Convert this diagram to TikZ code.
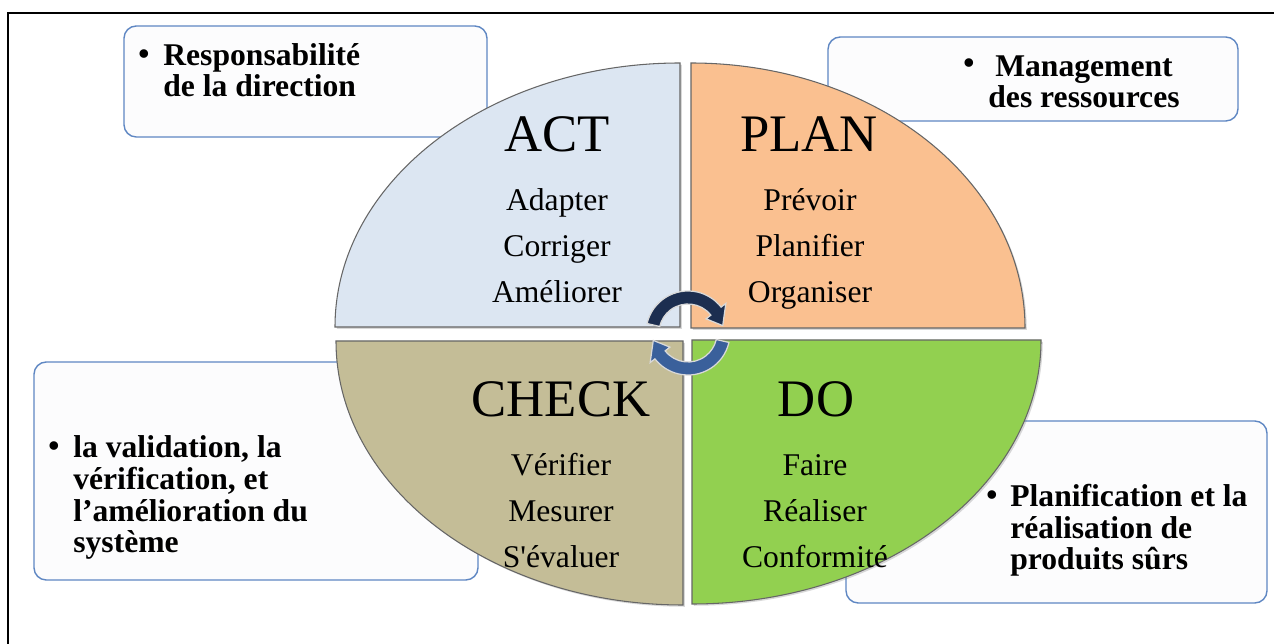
\documentclass[tikz,border=0pt]{standalone}
\usepackage{fontspec}
\setmainfont{Liberation Serif}
\usetikzlibrary{shadows}

\definecolor{actfill}{RGB}{220,230,242}
\definecolor{planfill}{RGB}{250,192,144}
\definecolor{checkfill}{RGB}{196,189,151}
\definecolor{dofill}{RGB}{146,208,80}
\definecolor{boxline}{RGB}{95,135,195}
\definecolor{boxfill}{RGB}{252,252,253}
\definecolor{navy}{RGB}{28,46,80}
\definecolor{midblue}{RGB}{58,96,155}

\newcommand\boxfont{\fontsize{18}{18.2}\selectfont\bfseries}
\newcommand\stepfont{\fontsize{18}{26.4}\selectfont}

\tikzset{
  infobox/.style={draw=boxline, line width=0.8pt, rounded corners=7pt, fill=boxfill},
  quarter/.style={draw=black!60, line width=0.6pt,
    drop shadow={opacity=0.3, shadow xshift=1pt, shadow yshift=-1pt}},
  title/.style={font=\fontsize{30}{30}\selectfont, inner sep=0pt, anchor=base},
  steps/.style={font=\stepfont, align=center, inner sep=0pt, anchor=base},
  boxtext/.style={font=\boxfont, align=left, inner sep=0pt, anchor=base west},
  bullet/.style={font=\boxfont, inner sep=0pt, anchor=base},
  cycle/.style={draw=black!15, line width=0.7pt}
}

\begin{document}
\begin{tikzpicture}[x=0.02cm, y=-0.02cm]
  \path[use as bounding box, fill=white] (0,0) rectangle (1274,644);
  \draw[line width=0.9pt] (8,644) -- (8,13) -- (1274,13);

  % boxes behind the cycle (text anchored on its last line)
  \draw[infobox] (124,26) rectangle (487,137);
  \draw[infobox] (828,37) rectangle (1238,121);
  \draw[infobox] (34,362) rectangle (478,580);
  \draw[infobox] (846,421) rectangle (1267,603);

  \node[bullet] (b1) at (144,65) {•};
  \node[boxtext] (resp) at (163,97) {Responsabilité\\de la direction};
  \node[bullet] (b2) at (969,74) {•};
  \node[boxtext, align=center, anchor=base] (mgmt) at (1084,108) {Management\\des ressources};
  \node[bullet] (b3) at (54,457) {•};
  \node[boxtext] (valid) at (73,553) {la validation, la\\vérification, et\\l’amélioration du\\système};
  \node[bullet] (b4) at (992,506) {•};
  \node[boxtext] (prod) at (1010,570) {Planification et la\\réalisation de\\produits sûrs};

  % the four quarters
  \draw[quarter, fill=actfill] (680,327) -- ++(-345,0)
    arc[start angle=180, end angle=270, x radius=345, y radius=264] -- cycle;
  \draw[quarter, fill=planfill] (691,328) -- ++(334,0)
    arc[start angle=0, end angle=-90, x radius=334, y radius=265] -- cycle;
  \draw[quarter, fill=checkfill] (683,341) -- ++(-347,0)
    arc[start angle=180, end angle=90, x radius=347, y radius=264] -- cycle;
  \draw[quarter, fill=dofill] (692,340) -- ++(349,0)
    arc[start angle=0, end angle=90, x radius=349, y radius=264] -- cycle;

  \node[title] (act) at (557,152) {ACT};
  \node[steps] (actsteps) at (557,303) {Adapter\\Corriger\\Améliorer};
  \node[title] (plan) at (809,152) {PLAN};
  \node[steps] (plansteps) at (810,303) {Prévoir\\Planifier\\Organiser};
  \node[title] (check) at (561,417) {CHECK};
  \node[steps] (checksteps) at (561,568) {Vérifier\\Mesurer\\S\textquotesingle évaluer};
  \node[title] (do) at (816,417) {DO};
  \node[steps] (dosteps) at (815,568) {Faire\\Réaliser\\Conformité};

  % turning arrows in the middle
  \begin{scope}[shift={(688,333)}]
    \draw[cycle, fill=navy] (193:42) arc[start angle=193, end angle=322, radius=42]
      -- (322:48) -- (348:35.5) -- (322:23) -- (322:29)
      arc[start angle=322, end angle=193, radius=29] -- cycle;
    \draw[cycle, fill=midblue] (13:42) arc[start angle=13, end angle=142, radius=42]
      -- (142:48) -- (168:35.5) -- (142:23) -- (142:29)
      arc[start angle=142, end angle=13, radius=29] -- cycle;
  \end{scope}
\end{tikzpicture}
\end{document}
